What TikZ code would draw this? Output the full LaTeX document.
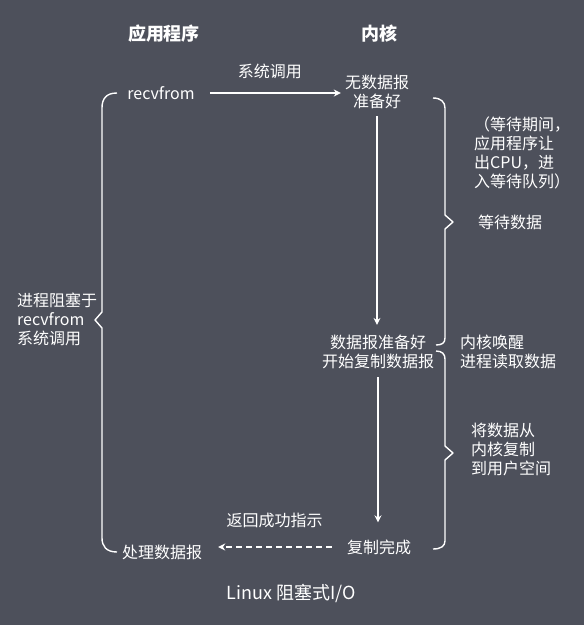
\documentclass[tikz,border=0pt]{standalone}
\usepackage{fontspec}
\setmainfont{Noto Sans CJK SC}
\usetikzlibrary{arrows.meta}
\definecolor{panel}{HTML}{4D505B}

\begin{document}
\begin{tikzpicture}[
    x=1pt,
    y=-1pt,
    flow/.style={
        white,
        line width=1.5pt,
        -{Stealth[length=7pt, width=7pt]},
    },
    reply/.style={
        flow,
        dash pattern=on 6pt off 4pt,
    },
    curly/.style={
        white,
        line width=1.4pt,
        line join=round,
    },
    plain/.style={
        text=white,
        font=\fontsize{16}{19}\selectfont,
        inner sep=0pt,
        align=center,
    },
    note/.style={
        plain,
        align=left,
        anchor=west,
    },
    heading/.style={
        plain,
        font=\fontsize{18}{22}\selectfont\bfseries,
    }
]
    % Background
    \fill[panel] (0,0) rectangle (584,625);

    % Columns
    \node[heading] (apptitle) at (164,34) {应用程序};
    \node[heading] (kerneltitle) at (379,34) {内核};

    % Steps
    \node[plain] (recv) at (161,93) {recvfrom};
    \node[plain] (nodata) at (377,92) {无数据报\\准备好};
    \node[plain] (ready) at (378,352) {数据报准备好\\开始复制数据报};
    \node[plain] (done) at (379,547) {复制完成};
    \node[plain] (handle) at (162,552) {处理数据报};

    % Calls
    \draw[flow, shorten <=15pt, shorten >=4pt] (recv.east) -- (recv.east -| nodata.west)
        node[plain, midway, above=13pt] (syscall) {系统调用};
    \draw[flow, shorten <=7pt, shorten >=10pt] (nodata.south) -- (nodata.south |- ready.north);
    \draw[flow, shorten <=8pt, shorten >=17pt] (ready.south) -- (ready.south |- done.north);
    \draw[reply, shorten <=15pt, shorten >=16pt] (done.west) -- (done.west -| handle.east)
        node[plain, midway, above=18pt] (success) {返回成功指示};

    % Braces
    \draw[curly] (117,93) .. controls (106,93) and (102,99) .. (102,108)
        -- (102,312) -- (95,320) -- (102,328) -- (102,538)
        .. controls (102,546) and (106,552) .. (117,552);
    \draw[curly] (433,98) .. controls (441,98) and (445,102) .. (445,108)
        -- (445,215) -- (453,222) -- (445,229) -- (445,338)
        .. controls (445,343) and (442,345) .. (436,345);
    \draw[curly] (436,351) .. controls (442,351) and (445,354) .. (445,359)
        -- (445,446) -- (453,453) -- (445,460) -- (445,541)
        .. controls (445,546) and (441,549) .. (433,549);

    % Notes
    \node[note] (block) at (17,319) {进程阻塞于\\recvfrom\\系统调用};
    \node[note] (waitnote) at (474,153) {（等待期间，\\应用程序让\\出CPU，进\\入等待队列）};
    \node[note] (waitdata) at (478,222) {等待数据};
    \node[note] (wake) at (460,352) {内核唤醒\\进程读取数据};
    \node[note] (copynote) at (471,449) {将数据从\\内核复制\\到用户空间};

    % Caption
    \node[plain, font=\fontsize{18}{22}\selectfont] (caption) at (291,593) {Linux 阻塞式I/O};
\end{tikzpicture}
\end{document}
